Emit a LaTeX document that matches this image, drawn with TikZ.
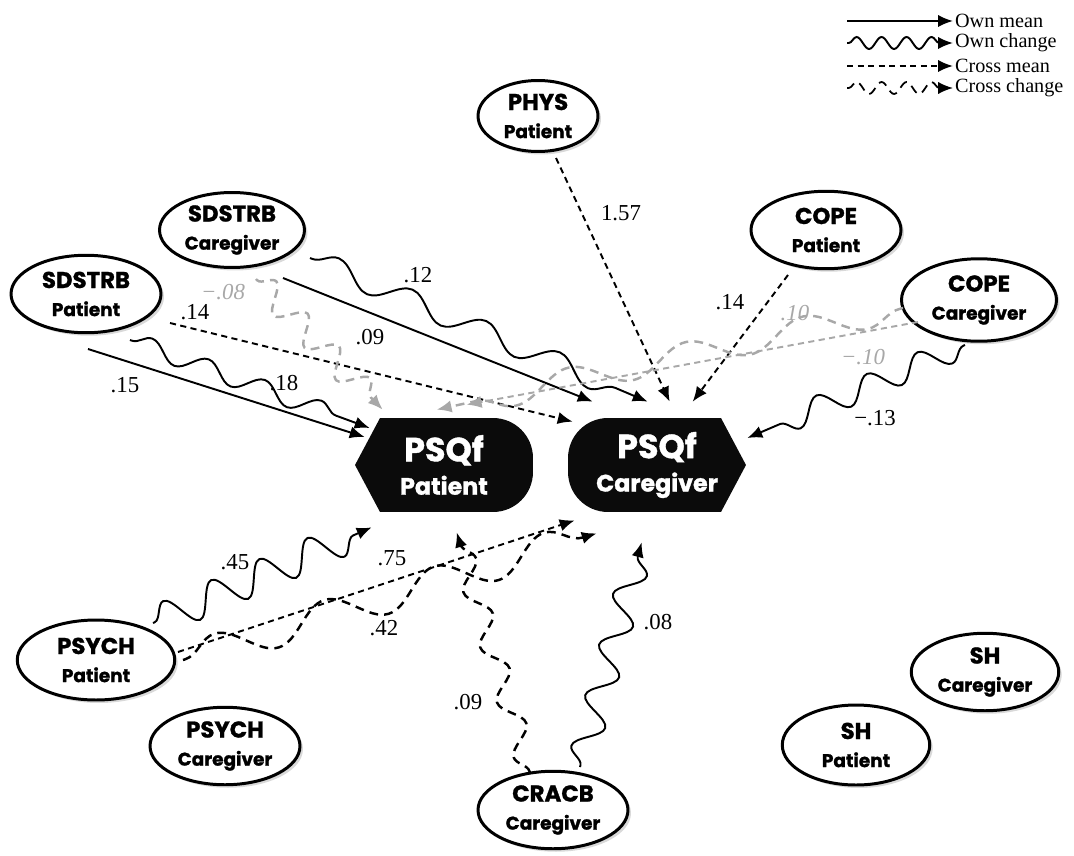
\documentclass[tikz,border=0pt]{standalone}
\usepackage{fontspec}
\setmainfont{Liberation Serif}
\newfontfamily\varfont{Poppins}[BoldFeatures={FakeBold=1.2}]
\usepackage{tikz}
\usetikzlibrary{arrows.meta,calc,shapes.geometric,shadows,decorations.pathmorphing}
\definecolor{PathGrey}{HTML}{A8A8A8}
\definecolor{BoxBlack}{HTML}{0B0B0B}
\newcommand{\vn}[2]{{\fontsize{13}{16}\selectfont #1}\\#2}
\newcommand{\outc}[2]{{\fontsize{19}{20}\selectfont #1}\\#2}

\tikzset{
  var/.style={ellipse,draw,line width=1.7pt,fill=white,inner sep=0pt,align=center,
    minimum width=3cm,minimum height=1.55cm,
    font=\varfont\bfseries\fontsize{10.5}{16}\selectfont,
    drop shadow={opacity=.3,shadow xshift=.06cm,shadow yshift=-.06cm}},
  psqf/.style={inner sep=0pt,minimum width=3.56cm,minimum height=1.88cm,align=center,
    text=white,font=\varfont\bfseries\fontsize{13.5}{19}\selectfont},
  pointleft/.style={psqf,path picture={
    \fill[BoxBlack] (path picture bounding box.west)
      -- ([xshift=.5cm]path picture bounding box.north west)
      -- ([xshift=-.8cm]path picture bounding box.north east)
      arc[start angle=90,end angle=0,radius=.8cm]
      -- ([yshift=.8cm]path picture bounding box.south east)
      arc[start angle=0,end angle=-90,radius=.8cm]
      -- ([xshift=.5cm]path picture bounding box.south west) -- cycle;}},
  pointright/.style={psqf,path picture={
    \fill[BoxBlack] (path picture bounding box.east)
      -- ([xshift=-.5cm]path picture bounding box.north east)
      -- ([xshift=.8cm]path picture bounding box.north west)
      arc[start angle=90,end angle=180,radius=.8cm]
      -- ([yshift=.8cm]path picture bounding box.south west)
      arc[start angle=180,end angle=270,radius=.8cm]
      -- ([xshift=-.5cm]path picture bounding box.south east) -- cycle;}},
  coef/.style={inner sep=1pt,font=\fontsize{13}{13}\selectfont},
  gcoef/.style={coef,text=PathGrey,font=\itshape\fontsize{13}{13}\selectfont},
  pathtip/.style={-{Latex[length=8.5pt,width=7pt]}},
  ownmean/.style={pathtip,line width=1.1pt},
  crossmean/.style={pathtip,line width=1.1pt,dash pattern=on 3.5pt off 2.5pt},
  crosschange/.style={pathtip,line width=1.4pt,dash pattern=on 5pt off 3.5pt},
  wave/.style 2 args={decorate,decoration={snake,segment length=#1,amplitude=#2,
    pre length=1pt,post length=7pt}},
  faded/.style={draw=PathGrey,color=PathGrey},
  key/.style={anchor=west,inner sep=1pt,font=\fontsize{11.5}{11.5}\selectfont}
}

\begin{document}
\begin{tikzpicture}[x=0.02cm,y=-0.02cm]
\useasboundingbox (0,0) rectangle (1074,855);

% predictors
\node[var,minimum width=2.4cm,minimum height=1.42cm] (phys) at (538,116) {\vn{PHYS}{Patient}};
\node[var,minimum width=2.9cm,minimum height=1.5cm] (sdCare) at (232,230) {\vn{SDSTRB}{Caregiver}};
\node[var,minimum height=1.55cm] (sdPat) at (86,294) {\vn{SDSTRB}{Patient}};
\node[var] (copePat) at (826,230) {\vn{COPE}{Patient}};
\node[var,minimum width=3.1cm,minimum height=1.65cm] (copeCare) at (979,300) {\vn{COPE}{Caregiver}};
\node[var,minimum width=3.15cm,minimum height=1.6cm] (psyPat) at (96,660) {\vn{PSYCH}{Patient}};
\node[var] (psyCare) at (225,746) {\vn{PSYCH}{Caregiver}};
\node[var,minimum height=1.55cm] (cracb) at (553,810) {\vn{CRACB}{Caregiver}};
\node[var,minimum width=2.95cm] (shCare) at (985,672) {\vn{SH}{Caregiver}};
\node[var,minimum width=2.95cm,minimum height=1.6cm] (shPat) at (856,745) {\vn{SH}{Patient}};

% outcomes
\node[pointleft] (pp) at (444,465) {\outc{PSQf}{Patient}};
\node[pointright] (pc) at (657,465) {\outc{PSQf}{Caregiver}};

% own mean
\draw[ownmean] ($(sdPat)+(2,55)$) -- ($(pp.west)+(10,-28)$);
\node[coef] (cA) at (125,385) {.15};
\draw[ownmean] ($(sdCare)+(51,48)$) -- ($(pc.north west)+(25,-16)$);
\node[coef] (cB) at (370,337) {.09};

% own change
\draw[ownmean,wave={1.2cm}{.18cm}] ($(sdPat)+(44,46)$) -- ($(pp.west)+(15,-37)$);
\node[coef] (cC) at (284,383) {.18};
\draw[ownmean,wave={1.6cm}{.22cm}] ($(sdCare)+(78,28)$) -- ($(pc.north west)+(80,-16)$);
\node[coef] (cD) at (418,275) {.12};
\draw[ownmean,wave={1.1cm}{.24cm}] ($(copeCare)+(-14,45)$) -- ($(pc.east)+(1,-27)$);
\node[coef] (cE) at (875,418) {−.13};
\draw[ownmean,wave={1.05cm}{.32cm}] ($(psyPat)+(57,-37)$) -- ($(pp.south west)+(17,15)$);
\node[coef] (cF) at (235,562) {.45};
\draw[ownmean,wave={1.05cm}{.28cm}] ($(cracb)+(27,-43)$) -- ($(pc.south west)+(74,30)$);
\node[coef] (cG) at (658,622) {.08};

% cross mean
\draw[crossmean] ($(sdPat)+(84,29)$) -- ($(pc.north west)+(5,4)$);
\node[coef] (cH) at (195,312) {.14};
\draw[crossmean] ($(phys)+(18,42)$) -- ($(pc.north west)+(102,-16)$);
\node[coef] (cI) at (621,213) {1.57};
\draw[crossmean] ($(copePat)+(-38,45)$) -- ($(pc.north west)+(125,-16)$);
\node[coef] (cJ) at (730,302) {.14};
\draw[crossmean,faded] ($(copeCare)+(-61,22)$) -- ($(pp.north west)+(112,-13)$);
\node[gcoef] (cK) at (863,357) {−.10};
\draw[crossmean] ($(psyPat)+(82,-8)$) -- ($(pc.south west)+(7,8)$);
\node[coef] (cL) at (392,558) {.75};

% cross change
\draw[crosschange,faded,wave={.9cm}{.26cm}] ($(sdCare)+(24,49)$) -- ($(pp.north west)+(28,-8)$);
\node[gcoef] (cM) at (223,292) {−.08};
\draw[crosschange,faded,wave={2.4cm}{.26cm}] ($(copeCare)+(-76,8)$) -- ($(pp.north west)+(82,-8)$);
\node[gcoef] (cN) at (795,313) {.10};
\draw[crosschange,wave={2.3cm}{.32cm}] ($(psyPat)+(87,0)$) -- ($(pc.south west)+(29,21)$);
\node[coef] (cO) at (384,628) {.42};
\draw[crosschange,wave={1.15cm}{.22cm}] ($(cracb)+(-23,-37)$) -- ($(pp.south west)+(102,20)$);
\node[coef] (cP) at (468,702) {.09};

% legend
\node[key] (k1) at (953,21) {Own mean};
\node[key] (k2) at (953,43) {Own change};
\node[key] (k3) at (953,66) {Cross mean};
\node[key] (k4) at (953,88) {Cross change};
\coordinate (k1s) at (847,21);
\coordinate (k2s) at (847,43);
\coordinate (k3s) at (847,66);
\coordinate (k4s) at (847,88);
\draw[ownmean] (k1s) -- (k1.west);
\draw[ownmean,wave={.5cm}{.12cm}] (k2s) -- (k2.west);
\draw[crossmean] (k3s) -- (k3.west);
\draw[crosschange,line width=1pt,wave={.5cm}{.12cm}] (k4s) -- (k4.west);
\end{tikzpicture}
\end{document}
